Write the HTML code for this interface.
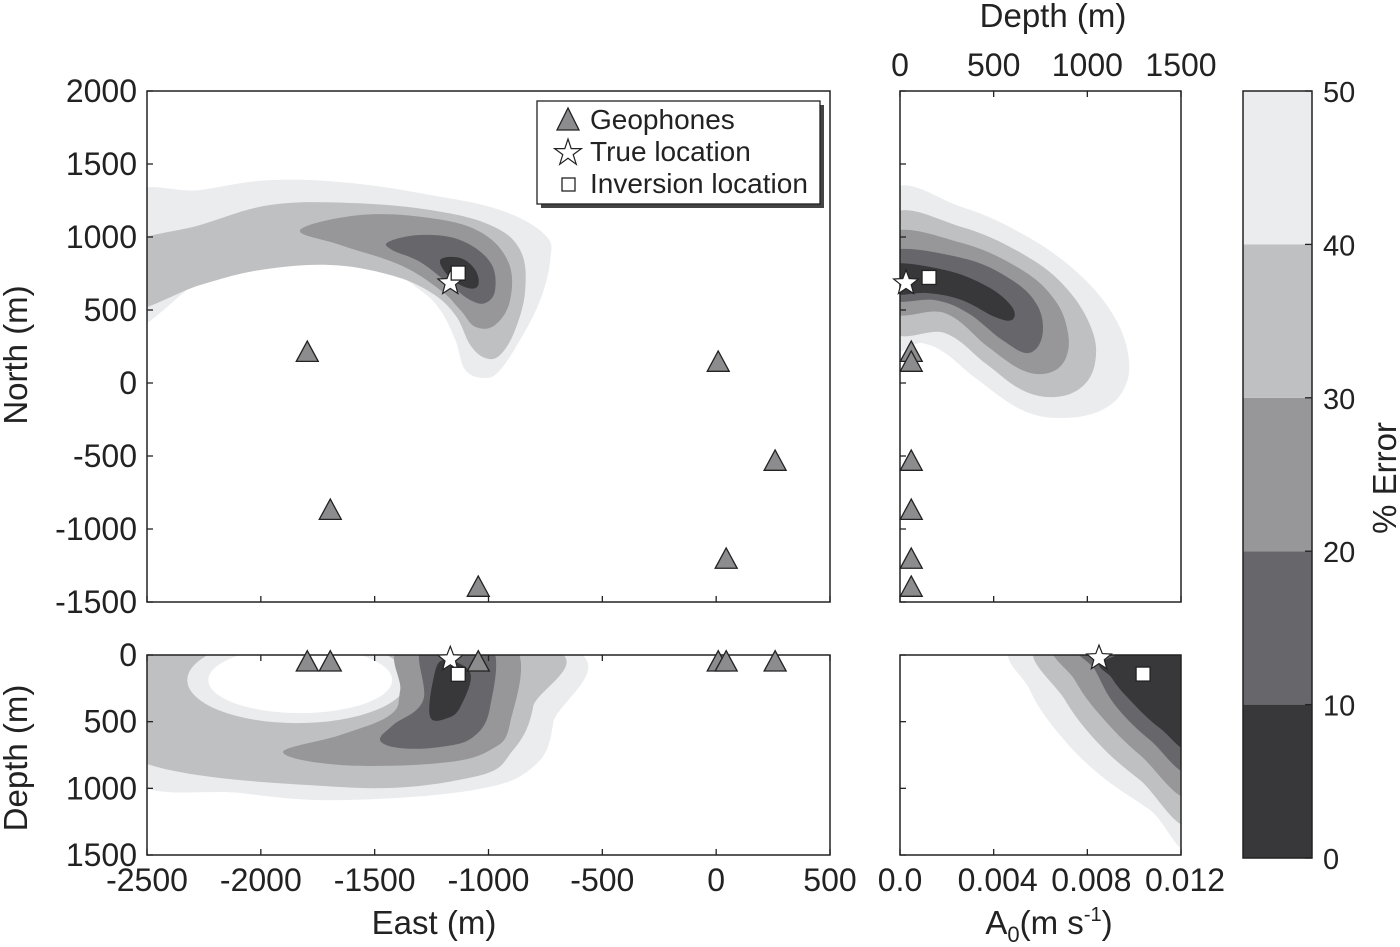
<!DOCTYPE html>
<html><head><meta charset="utf-8"><style>
body{margin:0;background:#fff;}
svg{display:block;font-family:"Liberation Sans",sans-serif;}
</style></head><body>
<div style="position:relative;width:1400px;height:947px">
<svg id="fig" width="1400" height="947" viewBox="0 0 1400 947" style="position:absolute;left:0;top:0">
<g id="layer"></g>
</svg>
<svg width="1400" height="947" style="position:absolute;left:0;top:0">
 <g font-family="Liberation Sans, sans-serif" fill="#222">
  <text x="434" y="934" font-size="33" text-anchor="middle">East (m)</text>
  <text x="1049" y="934" font-size="33" text-anchor="middle">A<tspan font-size="22" dy="8">0</tspan><tspan dy="-8">(m s</tspan><tspan font-size="20" dy="-13">-1</tspan><tspan dy="13">)</tspan></text>
  <text x="1053" y="27" font-size="33" text-anchor="middle">Depth (m)</text>
  <text transform="translate(27,355) rotate(-90)" font-size="33" text-anchor="middle">North (m)</text>
  <text transform="translate(27,758) rotate(-90)" font-size="33" text-anchor="middle">Depth (m)</text>
  <text transform="translate(1396,478) rotate(-90)" font-size="33" text-anchor="middle">% Error</text>
 </g>
 <g>
  <rect x="541" y="105" width="283" height="103" fill="#444"/>
  <rect x="537" y="101" width="283" height="103" fill="#fff" stroke="#222" stroke-width="1.3"/>
  <polygon points="568,108 557,130 579,130" fill="#8c8c8e" stroke="#222" stroke-width="1.3"/>
  <polygon points="568,139 571.2,148.6 581.4,148.6 573.2,154.6 576.3,164.3 568,158.3 559.7,164.3 562.8,154.6 554.6,148.6 564.8,148.6" fill="#fff" stroke="#222" stroke-width="1.2"/>
  <rect x="562" y="178" width="13" height="13" fill="#fff" stroke="#222" stroke-width="1.3"/>
  <g font-family="Liberation Sans, sans-serif" font-size="28" fill="#222">
   <text x="590" y="129">Geophones</text>
   <text x="590" y="161">True location</text>
   <text x="590" y="193">Inversion location</text>
  </g>
 </g>
</svg>
</div>
<script>
// ---- data ----
const levelColors = ["#38373a","#67666a","#97979a","#bfc0c2","#ebecee"];
const cbTicks = [0,10,20,30,40,50];
const eastTicks = [-2500,-2000,-1500,-1000,-500,0,500];
const northTicks = [2000,1500,1000,500,0,-500,-1000,-1500];
const depthTicks = [0,500,1000,1500];
const a0Ticks = [0,0.004,0.008,0.012];
const a0TickLabels = ["0.0","0.004","0.008","0.012"];
const geoEast = [-1796,-1695,-1045,9,259,44];
const geoNorth = [212,-870,-1397,144,-534,-1205];
const geoDepth = [50,50,50,50,50,50];
const trueLoc = {e:-1168,n:685,d:32};
const invLoc = {e:-1133,n:753,d:155};
const trueA0 = 0.0085, invA0 = 0.01038;
const mapContours = [
 [4,[[-2600,1250],[-2266,1322],[-1959,1390],[-1607,1370],[-1256,1288],[-949,1185],[-751,1014],[-729,842],[-773,568],[-861,295],[-949,89],[-1014,34],[-1102,89],[-1146,295],[-1212,500],[-1300,637],[-1476,808],[-1739,911],[-2046,877],[-2266,705],[-2600,380]]],
 [3,[[-2600,920],[-2266,1082],[-1959,1219],[-1607,1233],[-1256,1185],[-993,1082],[-861,911],[-839,637],[-883,363],[-949,192],[-1014,171],[-1080,260],[-1146,466],[-1256,623],[-1432,740],[-1695,808],[-2002,774],[-2266,671],[-2600,500]]],
 [2,[[-1827,1048],[-1563,1151],[-1256,1130],[-1036,1034],[-913,829],[-905,568],[-971,397],[-1058,384],[-1124,500],[-1212,637],[-1388,808],[-1651,945]]],
 [1,[[-1440,966],[-1300,1014],[-1124,979],[-993,829],[-971,637],[-1014,548],[-1080,568],[-1168,671],[-1300,829],[-1423,911]]],
 [0,[[-1212,842],[-1124,856],[-1058,774],[-1045,671],[-1089,650],[-1168,719]]]
];
const secContours = [
 [4,[[-2600,-80],[-716,-80],[-716,510],[-804,840],[-1067,1013],[-1651,1088],[-2090,1035],[-2600,900]]],
 [3,[[-2600,-80],[-804,-80],[-804,390],[-892,713],[-1067,915],[-1651,990],[-2600,740]]],
 [2,[[-1375,-80],[-1388,263],[-1432,450],[-1651,600],[-1902,728],[-1651,825],[-1212,810],[-993,713],[-905,510],[-896,-80]]],
 [1,[[-1287,-80],[-1287,338],[-1419,525],[-1476,638],[-1388,698],[-1212,690],[-1067,615],[-993,390],[-993,-80]]],
 [0,[[-1199,38],[-1080,135],[-1124,390],[-1181,473],[-1256,465],[-1243,188]]]
];
const secHoleRing = {e:-1840,d:188,rx:483,ry:323};
const secHole = {e:-1827,d:188,rx:404,ry:248};
const depthNorthContours = [
 [4,[[-60,1290],[331,1205],[683,1000],[950,753],[1132,479],[1217,205],[1201,-27],[1078,-185],[865,-240],[651,-185],[416,21],[240,205],[117,274],[-60,300]]],
 [3,[[-60,1135],[331,1068],[683,863],[897,637],[1025,363],[1041,137],[971,-27],[827,-96],[651,-48],[454,137],[240,342],[-60,384]]],
 [2,[[-60,1018],[331,959],[651,774],[827,568],[897,342],[881,158],[790,68],[651,89],[470,247],[240,479],[-60,500]]],
 [1,[[-60,900],[331,856],[598,705],[737,521],[758,315],[683,205],[545,295],[363,479],[187,568],[-60,582]]],
 [0,[[-60,810],[240,774],[470,658],[598,521],[598,432],[507,452],[331,568],[150,616],[-60,616]]]
];
const a0Contours = [
 [4,[[0.00512,-80],[0.0125,-80],[0.0125,1400],[0.01068,1163],[0.00854,900],[0.00683,600],[0.00555,263]]],
 [3,[[0.00598,-80],[0.0125,-80],[0.0125,1230],[0.01025,938],[0.00854,675],[0.00705,338]]],
 [2,[[0.00683,-80],[0.0125,-80],[0.0125,1030],[0.01025,750],[0.00854,450],[0.00747,188]]],
 [1,[[0.00769,-80],[0.0125,-80],[0.0125,850],[0.01068,638],[0.00918,375],[0.00833,113]]],
 [0,[[0.00875,38],[0.0125,-80],[0.0125,680],[0.0111,548],[0.00982,338],[0.00905,173]]]
];

// ---- axes ----
const P = {L:147,R:830,T:91,B:602,BT:655,BB:855,RL:900,RR:1181};
const xE = e => P.L + (e+2500)/3000*(P.R-P.L);
const yN = n => P.T + (2000-n)/3500*(P.B-P.T);
const yD = d => P.BT + d/1500*(P.BB-P.BT);
const xDp = d => P.RL + d/1500*(P.RR-P.RL);
const xA = a => P.RL + a/0.012*(P.RR-P.RL);
const yCB = v => 858 - v/50*(858-91);

const NS="http://www.w3.org/2000/svg";
const root=document.getElementById('layer');
function mk(tag,attrs,parent){const el=document.createElementNS(NS,tag);for(const k in attrs)el.setAttribute(k,attrs[k]);(parent||root).appendChild(el);return el;}
function txt(s,x,y,size,anchor,parent){const t=mk('text',{x:x,y:y,'font-size':size,'text-anchor':anchor||'middle',fill:'#222'},parent);t.textContent=s;return t;}

function clipRect(id,x,y,w,h){const d=mk('clipPath',{id:id});mk('rect',{x:x,y:y,width:w,height:h},d);}
clipRect('c1',P.L,P.T,P.R-P.L,P.B-P.T);
clipRect('c2',P.L,P.BT,P.R-P.L,P.BB-P.BT);
clipRect('c3',P.RL,P.T,P.RR-P.RL,P.B-P.T);
clipRect('c4',P.RL,P.BT,P.RR-P.RL,P.BB-P.BT);

function smoothPath(pts){
  const n=pts.length;let d='M'+pts[0][0].toFixed(1)+','+pts[0][1].toFixed(1);
  for(let i=0;i<n;i++){
    const p0=pts[(i-1+n)%n],p1=pts[i],p2=pts[(i+1)%n],p3=pts[(i+2)%n];
    const t=0.18;
    const c1=[p1[0]+(p2[0]-p0[0])*t,p1[1]+(p2[1]-p0[1])*t];
    const c2=[p2[0]-(p3[0]-p1[0])*t,p2[1]-(p3[1]-p1[1])*t];
    d+=` C${c1[0].toFixed(1)},${c1[1].toFixed(1)} ${c2[0].toFixed(1)},${c2[1].toFixed(1)} ${p2[0].toFixed(1)},${p2[1].toFixed(1)}`;
  }
  return d+'Z';
}
function drawContours(list,fx,fy,clip,name){
  const g=mk('g',{'clip-path':'url(#'+clip+')'});
  
  
  list.forEach(c=>{
    const pts=c[1].map(p=>[fx(p[0]),fy(p[1])]);
    const pg=mk('path',{d:smoothPath(pts),fill:levelColors[c[0]]},g);
    
    
  });
  return g;
}
drawContours(mapContours,xE,yN,'c1','map-contours');
const g2=drawContours(secContours.slice(0,2),xE,yD,'c2','section-contours');
const ring=mk('ellipse',{cx:xE(secHoleRing.e),cy:yD(secHoleRing.d),rx:secHoleRing.rx/3000*(P.R-P.L),ry:secHoleRing.ry/1500*(P.BB-P.BT),fill:levelColors[4]},g2);


const hole=mk('ellipse',{cx:xE(secHole.e),cy:yD(secHole.d),rx:secHole.rx/3000*(P.R-P.L),ry:secHole.ry/1500*(P.BB-P.BT),fill:'#fff'},g2);


drawContours(secContours.slice(2),xE,yD,'c2','section-contours-dark');
drawContours(depthNorthContours,xDp,yN,'c3','depth-north-contours');
drawContours(a0Contours,xA,yD,'c4','a0-depth-contours');

[[P.L,P.T,P.R-P.L,P.B-P.T,'map-frame'],[P.L,P.BT,P.R-P.L,P.BB-P.BT,'section-frame'],[P.RL,P.T,P.RR-P.RL,P.B-P.T,'depth-north-frame'],[P.RL,P.BT,P.RR-P.RL,P.BB-P.BT,'a0-frame']].forEach(f=>{
  const r=mk('rect',{x:f[0],y:f[1],width:f[2],height:f[3],fill:'none',stroke:'#222','stroke-width':1.5});
  
  
});

const tk=6, FS=32;
eastTicks.forEach(v=>{
  const x=xE(v);
  mk('line',{x1:x,y1:P.B,x2:x,y2:P.B-tk,stroke:'#222','stroke-width':1.3});
  mk('line',{x1:x,y1:P.BT,x2:x,y2:P.BT+tk,stroke:'#222','stroke-width':1.3});
  mk('line',{x1:x,y1:P.BB,x2:x,y2:P.BB-tk,stroke:'#222','stroke-width':1.3});
  const t=txt(String(v),x,891,FS);
  
  
});
northTicks.forEach(v=>{
  const y=yN(v);
  mk('line',{x1:P.L,y1:y,x2:P.L+tk,y2:y,stroke:'#222','stroke-width':1.3});
  mk('line',{x1:P.RL,y1:y,x2:P.RL+tk,y2:y,stroke:'#222','stroke-width':1.3});
  const t=txt(String(v),137,y+11,FS,'end');
  
  
});
depthTicks.forEach(v=>{
  const y=yD(v);
  mk('line',{x1:P.L,y1:y,x2:P.L+tk,y2:y,stroke:'#222','stroke-width':1.3});
  mk('line',{x1:P.RL,y1:y,x2:P.RL+tk,y2:y,stroke:'#222','stroke-width':1.3});
  const t=txt(String(v),137,y+11,FS,'end');
  
  
  const x=xDp(v);
  mk('line',{x1:x,y1:P.T,x2:x,y2:P.T+tk,stroke:'#222','stroke-width':1.3});
  mk('line',{x1:x,y1:P.B,x2:x,y2:P.B-tk,stroke:'#222','stroke-width':1.3});
  const t2=txt(String(v),x,76,FS);
  
  
});
a0Ticks.forEach((v,i)=>{
  const x=xA(v);
  mk('line',{x1:x,y1:P.BB,x2:x,y2:P.BB-tk,stroke:'#222','stroke-width':1.3});
  const t=txt(a0TickLabels[i],x+(i==0?0:4),891,FS);
  
  
});

function tri(x,y,name){
  const s=11;
  const p=mk('polygon',{points:`${x},${y-s} ${x-s},${y+s*0.85} ${x+s},${y+s*0.85}`,fill:'#8c8c8e',stroke:'#222','stroke-width':1.3});
  
  
}
function star(x,y,name){
  const pts=[];for(let i=0;i<10;i++){const r=i%2?5.5:13;const a=-Math.PI/2+i*Math.PI/5;pts.push((x+r*Math.cos(a)).toFixed(1)+','+(y+r*Math.sin(a)).toFixed(1));}
  const p=mk('polygon',{points:pts.join(' '),fill:'#fff',stroke:'#222','stroke-width':1.2});
  
  
}
function sq(x,y,name){
  const p=mk('rect',{x:x-7,y:y-7,width:14,height:14,fill:'#fff',stroke:'#222','stroke-width':1.3});
  
  
}
geoEast.forEach((e,i)=>{
  tri(xE(e),yN(geoNorth[i]),'geophone-map');
  tri(xE(e),yD(geoDepth[i]),'geophone-section');
  tri(xDp(60),yN(geoNorth[i]),'geophone-depth-north');
});
star(xE(trueLoc.e),yN(trueLoc.n),'true-location-map');
sq(xE(invLoc.e),yN(invLoc.n),'inversion-location-map');
star(xE(trueLoc.e),yD(trueLoc.d),'true-location-section');
sq(xE(invLoc.e),yD(invLoc.d-10),'inversion-location-section');
star(xDp(trueLoc.d),yN(trueLoc.n),'true-location-depth-north');
sq(xDp(invLoc.d),yN(invLoc.n-30),'inversion-location-depth-north');
star(xA(trueA0),yD(23),'true-location-a0');
sq(xA(invA0),yD(143),'inversion-location-a0');

levelColors.forEach((c,i)=>{
  const r=mk('rect',{x:1243,y:yCB(cbTicks[i+1]),width:69,height:yCB(cbTicks[i])-yCB(cbTicks[i+1]),fill:c});
  
  
});
mk('rect',{x:1243,y:91,width:69,height:767,fill:'none',stroke:'#222','stroke-width':1.5});
cbTicks.forEach(v=>{
  const y=yCB(v);
  mk('line',{x1:1305,y1:y,x2:1312,y2:y,stroke:'#222','stroke-width':1.3});
  const t=txt(String(v),1323,y+11,29,'start');
  
  
});
</script>
</body></html>
